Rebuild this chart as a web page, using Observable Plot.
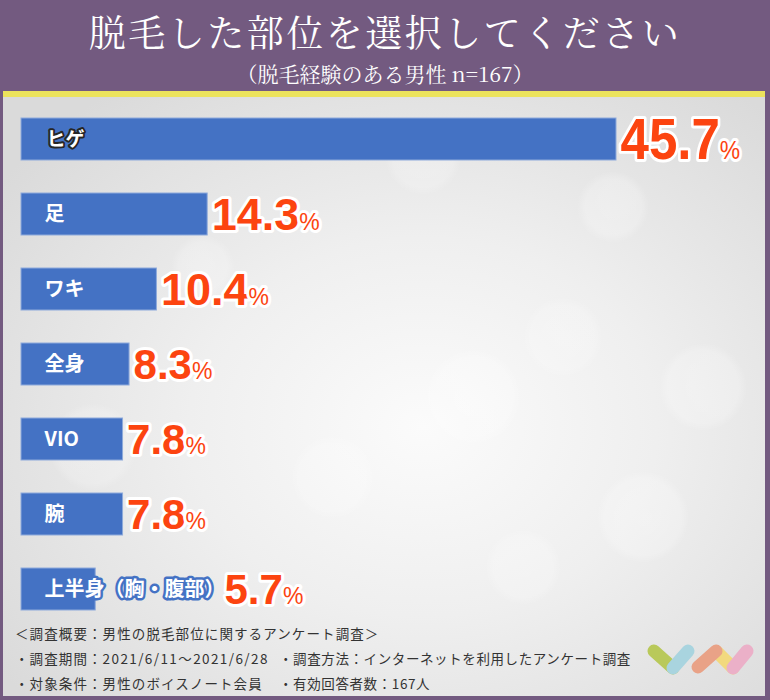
<!DOCTYPE html>
<html>
<head>
<meta charset="utf-8">
<script src="https://cdn.jsdelivr.net/npm/d3@7"></script>
<script src="https://cdn.jsdelivr.net/npm/@observablehq/plot@0.6"></script>
<style>
  html, body { margin: 0; padding: 0; background: #fff; }
  #frame { position: relative; width: 770px; height: 700px; background: #735a80; overflow: hidden; font-family: "Noto Sans CJK JP", sans-serif; }
  #title { position: absolute; left: 0; width: 770px; top: 6px; text-align: center; color: #fff; font-size: 37px; line-height: 50px; letter-spacing: 2.5px; font-family: "Noto Serif CJK JP", "Noto Sans CJK JP", serif; font-weight: 400; }
  #subtitle { position: absolute; left: 0; width: 770px; top: 59px; text-align: center; color: #fff; font-size: 21px; line-height: 28px; font-family: "Noto Serif CJK JP", "Noto Sans CJK JP", serif; }
  #panel { position: absolute; left: 3px; top: 91px; width: 762px; height: 605px; box-sizing: border-box; border-top: 6px solid #ece35c;
    background:
      radial-gradient(circle at 610px 110px, rgba(255,255,255,0.28) 0, rgba(255,255,255,0.22) 28px, rgba(255,255,255,0) 36px),
      radial-gradient(circle at 200px 170px, rgba(255,255,255,0.25) 0, rgba(255,255,255,0.2) 24px, rgba(255,255,255,0) 32px),
      radial-gradient(circle at 700px 290px, rgba(255,255,255,0.28) 0, rgba(255,255,255,0.22) 36px, rgba(255,255,255,0) 44px),
      radial-gradient(circle at 470px 300px, rgba(255,255,255,0.28) 0, rgba(255,255,255,0.22) 40px, rgba(255,255,255,0) 48px),
      radial-gradient(circle at 560px 240px, rgba(255,255,255,0.22) 0, rgba(255,255,255,0.18) 32px, rgba(255,255,255,0) 40px),
      radial-gradient(circle at 330px 380px, rgba(255,255,255,0.25) 0, rgba(255,255,255,0.2) 34px, rgba(255,255,255,0) 42px),
      radial-gradient(circle at 640px 420px, rgba(255,255,255,0.28) 0, rgba(255,255,255,0.22) 38px, rgba(255,255,255,0) 46px),
      radial-gradient(circle at 90px 350px, rgba(255,255,255,0.22) 0, rgba(255,255,255,0.18) 36px, rgba(255,255,255,0) 44px),
      radial-gradient(circle at 520px 470px, rgba(255,255,255,0.25) 0, rgba(255,255,255,0.2) 30px, rgba(255,255,255,0) 38px),
      radial-gradient(circle at 420px 60px, rgba(255,255,255,0.25) 0, rgba(255,255,255,0.2) 30px, rgba(255,255,255,0) 38px),
      radial-gradient(ellipse 520px 420px at 420px 330px, #fbfbfb 0%, #efefef 45%, #dadada 100%);
  }
  #chart { position: absolute; left: 0; top: 97px; }
  .note { position: absolute; left: 15px; color: #333; font-size: 13.5px; line-height: 18px; letter-spacing: 1.1px; white-space: nowrap; }
  .note2 { left: 279px; letter-spacing: 0.6px; }
  .num { letter-spacing: 1.4px; }
  #logo { position: absolute; left: 640px; top: 636px; }
</style>
</head>
<body>
<div id="frame">
  <div id="panel"></div>
  <div id="title">脱毛した部位を選択してください</div>
  <div id="subtitle">（脱毛経験のある男性 n=167）</div>
  <div id="chart"></div>
  <div class="note" style="top:624px">＜調査概要：男性の脱毛部位に関するアンケート調査＞</div>
  <div class="note" style="top:649px">・調査期間：<span class="num">2021/6/11～2021/6/28</span></div>
  <div class="note note2" style="top:649px">・調査方法：インターネットを利用したアンケート調査</div>
  <div class="note" style="top:674px">・対象条件：男性のボイスノート会員</div>
  <div class="note note2" style="top:674px">・有効回答者数：167人</div>
  <svg id="logo" width="120" height="45" viewBox="0 0 120 45">
    <g stroke-linecap="round" stroke-width="13" fill="none">
      <line x1="14" y1="15" x2="33" y2="32" stroke="#b9c95a"/>
      <line x1="33" y1="32" x2="48" y2="15" stroke="#a9d4df"/>
      <line x1="77" y1="16" x2="93" y2="32" stroke="#f2d97e"/>
      <line x1="58" y1="31" x2="76" y2="15" stroke="#e9a287"/>
      <line x1="93" y1="32" x2="107" y2="15" stroke="#ebb0c8"/>
    </g>
  </svg>
</div>
<script>
const labels = ["ヒゲ", "足", "ワキ", "全身", "VIO", "腕", "上半身（胸・腹部）"];
const values = [45.7, 14.3, 10.4, 8.3, 7.8, 7.8, 5.7];

const data = labels.map((label, i) => ({label, value: values[i]}));
const numFont = "'Liberation Sans', Arial, sans-serif";
const jpFont = "'Noto Sans CJK JP', sans-serif";
const labelSize = 20;
const labelX = 44;

const xDomain = [0, d3.max(values)];
const xRange = [21, 616];
const xs = d3.scaleLinear(xDomain, xRange);

// measure category label widths so a value never sits on top of its label
const ctx = document.createElement("canvas").getContext("2d");
ctx.font = `bold ${labelSize}px ${jpFont}`;
const valueX = d => Math.max(d.value, xs.invert(labelX + ctx.measureText(d.label).width - 4));

const chart = Plot.plot({
  width: 770,
  height: 525,
  margin: 0,
  style: {background: "transparent", overflow: "visible"},
  x: {domain: xDomain, range: xRange, axis: null},
  y: {domain: labels, range: [19, 514], paddingInner: 0.444, paddingOuter: 0, axis: null},
  marks: [
    Plot.barX(data, {x: "value", y: "label", fill: "#4472c4", stroke: "#8eaadb", strokeWidth: 1}),
    Plot.text(data.filter(d => d.label === "ヒゲ"), {
      x: 0, y: "label", text: "label", textAnchor: "start", dx: labelX - 21 + 2,
      fill: "white", stroke: "#262626", strokeWidth: 4, paintOrder: "stroke",
      fontSize: labelSize - 1, fontWeight: "bold", fontFamily: jpFont
    }),
    Plot.text(data.filter(d => d.label !== "ヒゲ"), {
      x: 0, y: "label", text: "label", textAnchor: "start", dx: labelX - 21,
      fill: "white", stroke: "#4472c4", strokeWidth: 5, paintOrder: "stroke",
      fontSize: labelSize, fontWeight: "bold", fontFamily: jpFont
    }),
    Plot.text(data, {
      x: valueX, y: "label", text: d => d.value.toFixed(1), textAnchor: "start", dx: 4, dy: 1,
      fill: "#fc4410", stroke: "white", strokeWidth: 6, paintOrder: "stroke", strokeLinejoin: "round",
      fontSize: d => d.value > 40 ? 58 : d.value > 10 ? 45 : 42,
      fontWeight: "bold", fontFamily: numFont
    })
  ]
});

// add the small "%" after each value; the largest value is drawn slightly condensed
d3.select(chart).selectAll("text")
  .filter(function() { return /^\d+\.\d$/.test(this.textContent); })
  .each(function() {
    const el = d3.select(this);
    const big = +this.textContent > 40;
    el.append("tspan")
      .attr("dx", 0)
      .attr("font-size", big ? 26 : 23)
      .attr("font-weight", "normal")
      .text("%");
    if (!big) return;
    const t = el.attr("transform");
    if (t) {
      el.attr("transform", t + " scale(0.88,1)");
    } else {
      const x = +el.attr("x") || 0, y = +el.attr("y") || 0;
      el.attr("x", null).attr("y", null).attr("transform", `translate(${x},${y}) scale(0.88,1)`);
    }
  });

document.getElementById("chart").appendChild(chart);
</script>
</body>
</html>
